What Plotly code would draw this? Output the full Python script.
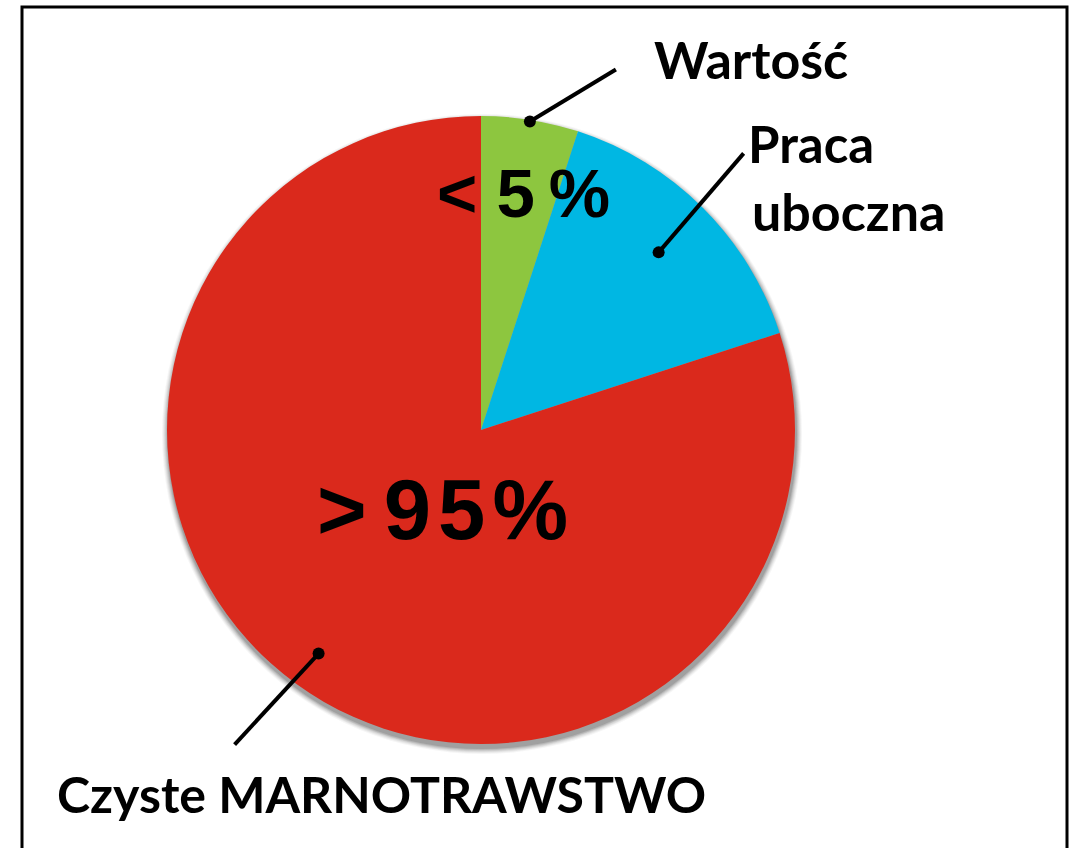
import math
import plotly.graph_objects as go

# ---- data ----
categories = ["Wartość", "Praca uboczna", "Czyste MARNOTRAWSTWO"]
values = [5, 15, 80]
colors = ["#8DC63F", "#00B7E3", "#DA291C"]
big_labels = ["< 5\u2009%", ">\u20099\u200a5\u200a%"]

# ---- layout geometry (pixels) ----
W, H = 1081, 848
CX, CY, R = 481, 430, 314

def px(x):
    return x / W

def py(y):
    return 1 - y / H

fig = go.Figure()
fig.add_trace(go.Pie(
    labels=categories, values=values, sort=False, direction="clockwise",
    rotation=0, marker=dict(colors=colors, line=dict(width=0)),
    textinfo="none", hoverinfo="label+value", showlegend=False,
    domain=dict(x=[px(CX - R), px(CX + R)], y=[py(CY + R), py(CY - R)]),
))

shapes = []
# soft shadow under the pie
for dr, op in [(6, 0.05), (5, 0.07), (4, 0.09), (3, 0.12), (2, 0.16), (1, 0.22)]:
    rr = R + dr
    oy = 4
    shapes.append(dict(type="circle", xref="paper", yref="paper", layer="below",
                       x0=px(CX - rr + 1), x1=px(CX + rr + 1),
                       y0=py(CY + oy + rr), y1=py(CY + oy - rr),
                       fillcolor=f"rgba(80,80,80,{op})", line=dict(width=0)))

# frame
shapes.append(dict(type="rect", xref="paper", yref="paper",
                   x0=px(22), x1=px(1067), y0=py(870), y1=py(7),
                   line=dict(color="black", width=3), fillcolor="rgba(0,0,0,0)"))

# leader lines with dots at slice mid-angles
radial_frac = [0.995, 0.80, 0.88]
line_offsets = [(86, -52), (85, -99), (-84, 91)]
total = sum(values)
cum = 0
for v, rf, (dx, dy) in zip(values, radial_frac, line_offsets):
    mid = (cum + v / 2) / total * 2 * math.pi
    cum += v
    x = CX + rf * R * math.sin(mid)
    y = CY - rf * R * math.cos(mid)
    shapes.append(dict(type="line", xref="paper", yref="paper",
                       x0=px(x), y0=py(y), x1=px(x + dx), y1=py(y + dy),
                       line=dict(color="black", width=4)))
    d = 6
    shapes.append(dict(type="circle", xref="paper", yref="paper",
                       x0=px(x - d), x1=px(x + d), y0=py(y + d), y1=py(y - d),
                       fillcolor="black", line=dict(width=0)))

label_font = dict(family="Lato, Open Sans, sans-serif", size=52, color="black")
pct_font = dict(family="Liberation Sans, Arial, sans-serif", color="black")

annotations = [
    dict(text="<b>Wartość</b>", x=px(652), y=py(92), xanchor="left", yanchor="bottom",
         font=label_font),
    dict(text="<b>Praca</b>", x=px(746), y=py(176), xanchor="left", yanchor="bottom",
         font=dict(label_font, size=51)),
    dict(text="<b>uboczna</b>", x=px(750), y=py(244), xanchor="left", yanchor="bottom",
         font=dict(label_font, size=52)),
    dict(text="<b>Czyste MARNOTRAWSTWO</b>", x=px(55), y=py(826), xanchor="left",
         yanchor="bottom", font=dict(label_font, size=50)),
    dict(text=f"<b>{big_labels[0]}</b>", x=px(523), y=py(193), xanchor="center",
         yanchor="middle", font=dict(pct_font, size=69)),
    dict(text=f"<b>{big_labels[1]}</b>", x=px(442), y=py(510), xanchor="center",
         yanchor="middle", font=dict(pct_font, size=85)),
]
for a in annotations:
    a.update(xref="paper", yref="paper", showarrow=False)

fig.update_layout(
    width=W, height=H, margin=dict(l=0, r=0, t=0, b=0),
    paper_bgcolor="white", plot_bgcolor="white",
    shapes=shapes, annotations=annotations,
)
fig.write_html("out.html", config={"displayModeBar": False},
               post_script="document.body.style.margin='0';")
